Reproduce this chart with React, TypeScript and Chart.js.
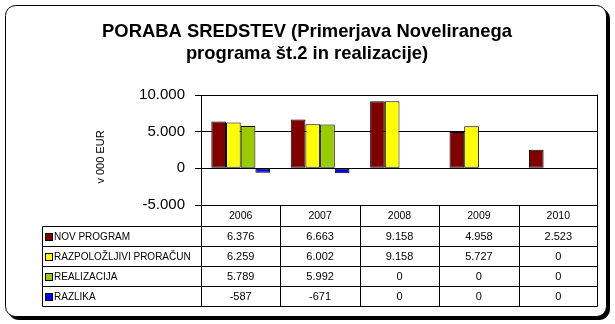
import React, { useEffect, useRef } from "react";
import { Chart, registerables } from "chart.js";

Chart.register(...registerables);

const categories = ["2006", "2007", "2008", "2009", "2010"];
const novProgram = [6376, 6663, 9158, 4958, 2523];
const razpolozljiviProracun = [6259, 6002, 9158, 5727, 0];
const realizacija = [5789, 5992, 0, 0, 0];
const razlika = [-587, -671, 0, 0, 0];
const seriesNames = ["NOV PROGRAM", "RAZPOLOŽLJIVI PRORAČUN", "REALIZACIJA", "RAZLIKA"];
const seriesColors = ["#800000", "#FFFF00", "#99CC00", "#0000FF"];
const yMin = -5000;
const yMax = 10000;
const yStep = 5000;
const titleLines = ["PORABA SREDSTEV (Primerjava Noveliranega", "programa št.2 in realizacije)"];
const yTitle = "v 000 EUR";

const FONT = "'Liberation Sans', Arial, sans-serif";

function fmt(v: number): string {
  const s = Math.abs(Math.round(v)).toString().replace(/\B(?=(\d{3})+(?!\d))/g, ".");
  return (v < 0 ? "-" : "") + s;
}

const seriesData = [novProgram, razpolozljiviProracun, realizacija, razlika];

const decorPlugin = {
  id: "decor",
  beforeDraw(chart: any) {
    const ctx = chart.ctx as CanvasRenderingContext2D;
    ctx.save();
    ctx.fillStyle = "#ffffff";
    ctx.fillRect(0, 0, chart.width, chart.height);
    // shadow
    ctx.fillStyle = "#000000";
    ctx.beginPath();
    (ctx as any).roundRect(8, 8, 602, 312, 11);
    ctx.fill();
    // frame
    ctx.fillStyle = "#ffffff";
    ctx.beginPath();
    (ctx as any).roundRect(5.5, 5.5, 601, 311, 10);
    ctx.fill();
    ctx.strokeStyle = "#000000";
    ctx.lineWidth = 1;
    ctx.stroke();
    ctx.restore();
  },
  afterDraw(chart: any) {
    const ctx = chart.ctx as CanvasRenderingContext2D;
    const area = chart.chartArea;
    const xs = chart.scales.x;
    ctx.save();
    // title
    ctx.fillStyle = "#000";
    ctx.font = `bold 18.4px ${FONT}`;
    ctx.textAlign = "center";
    ctx.textBaseline = "alphabetic";
    ctx.fillText(titleLines[0], 307, 37);
    ctx.fillText(titleLines[1], 307, 59);

    // y title
    ctx.save();
    ctx.translate(101, 157);
    ctx.rotate(-Math.PI / 2);
    ctx.font = `11px ${FONT}`;
    ctx.textAlign = "center";
    ctx.textBaseline = "middle";
    ctx.fillText(yTitle, 0, 0);
    ctx.restore();

    const px = (v: number) => Math.round(v) + 0.5;
    ctx.strokeStyle = "#000";
    ctx.lineWidth = 1;

    // right border of plot area
    const right = px(area.right - 1);
    ctx.beginPath();
    ctx.moveTo(right, px(area.top - 1));
    ctx.lineTo(right, px(area.bottom));
    ctx.stroke();

    // table
    const n = categories.length;
    const cw = (area.right - area.left) / n;
    const headTop = area.bottom;
    const headH = 21;
    const rowH = 20;
    const tableLeft = 42;
    const tableBottom = headTop + headH + rowH * seriesData.length;

    // vertical lines
    ctx.beginPath();
    for (let i = 0; i <= n; i++) {
      const x = i === n ? right : px(xs.getPixelForValue(i) - cw / 2);
      ctx.moveTo(x, px(headTop));
      ctx.lineTo(x, px(tableBottom));
    }
    ctx.moveTo(px(tableLeft), px(headTop + headH));
    ctx.lineTo(px(tableLeft), px(tableBottom));
    // horizontal lines
    for (let r = 0; r <= seriesData.length; r++) {
      const y = px(headTop + headH + r * rowH);
      ctx.moveTo(px(tableLeft), y);
      ctx.lineTo(right, y);
    }
    ctx.stroke();

    // header text
    ctx.font = `10.5px ${FONT}`;
    ctx.textAlign = "center";
    ctx.textBaseline = "middle";
    for (let i = 0; i < n; i++) {
      ctx.fillText(categories[i], xs.getPixelForValue(i), headTop + headH / 2 + 0.5);
    }
    // rows
    for (let r = 0; r < seriesData.length; r++) {
      const cy = headTop + headH + r * rowH + rowH / 2 + 1;
      // legend key
      const ky = Math.round(cy - 3.5);
      ctx.fillStyle = seriesColors[r];
      ctx.fillRect(46, ky, 6, 6);
      ctx.strokeRect(45.5, ky - 0.5, 7, 7);
      ctx.fillStyle = "#000";
      ctx.textAlign = "left";
      ctx.font = `10px ${FONT}`;
      ctx.fillText(seriesNames[r], 54, cy);
      ctx.textAlign = "center";
      ctx.font = `11px ${FONT}`;
      for (let i = 0; i < n; i++) {
        ctx.fillText(fmt(seriesData[r][i]), xs.getPixelForValue(i), cy);
      }
    }
    ctx.restore();
  },
};

export default function App() {
  const ref = useRef<HTMLCanvasElement | null>(null);
  useEffect(() => {
    document.body.style.margin = "0";
    const canvas = ref.current!;
    const chart = new Chart(canvas, {
      type: "bar",
      data: {
        labels: categories,
        datasets: seriesData.map((d, i) => ({
          label: seriesNames[i],
          data: d,
          backgroundColor: seriesColors[i],
          borderColor: "#000000",
          borderWidth: (c: any) => (c.raw === 0 ? 0 : 1),
          borderSkipped: false,
          inflateAmount: 0,
          categoryPercentage: 0.74,
          barPercentage: 1,
        })),
      },
      options: {
        responsive: false,
        animation: false,
        devicePixelRatio: 1,
        layout: { padding: { left: 0, right: 17, top: 95, bottom: 119 } },
        plugins: {
          legend: { display: false },
          title: { display: false },
          tooltip: { enabled: false },
        },
        scales: {
          x: { display: false },
          y: {
            min: yMin,
            max: yMax,
            afterFit: (s: any) => {
              s.width = 201;
            },
            ticks: {
              stepSize: yStep,
              padding: 10,
              color: "#000",
              font: { family: FONT, size: 15 },
              callback: (v: any) => fmt(Number(v)),
            },
            grid: { color: "#000", lineWidth: 1, drawTicks: true, tickLength: 6 },
            border: { display: true, color: "#000", width: 1 },
          },
        },
      },
      plugins: [decorPlugin],
    } as any);
    return () => chart.destroy();
  }, []);
  return (
    <div style={{ position: "fixed", left: 0, top: 0, width: 615, height: 324, background: "#fff" }}>
      <canvas ref={ref} width={615} height={324} style={{ width: 615, height: 324, display: "block" }} />
    </div>
  );
}
